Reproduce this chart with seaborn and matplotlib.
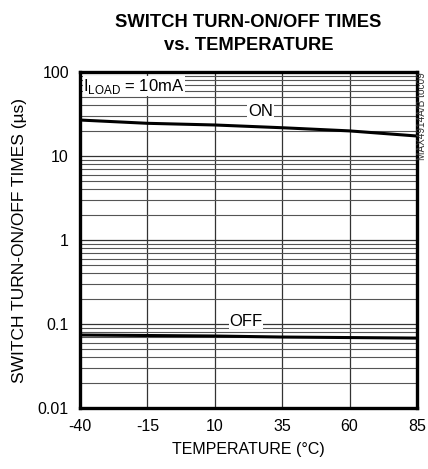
import numpy as np
import pandas as pd
import seaborn as sns
import matplotlib.pyplot as plt

temperature = [-40, -15, 10, 35, 60, 85]
t_on = [26.8, 24.5, 23.4, 21.7, 19.9, 17.3]
t_off = [0.074, 0.073, 0.072, 0.070, 0.069, 0.068]
x_ticks = [-40, -15, 10, 35, 60, 85]
y_ticks = [0.01, 0.1, 1, 10, 100]
y_ticklabels = ["0.01", "0.1", "1", "10", "100"]

df = pd.DataFrame({
    "temp": temperature * 2,
    "time": t_on + t_off,
    "mode": ["ON"] * len(t_on) + ["OFF"] * len(t_off),
})

sns.set_style("white")
plt.rcParams['font.family'] = ['Liberation Sans', 'DejaVu Sans']
plt.rcParams['text.color'] = 'black'
plt.rcParams['axes.labelcolor'] = 'black'

fig = plt.figure(figsize=(4.28, 4.69), dpi=100)
ax = fig.add_axes([0.187, 0.130, 0.787, 0.7165])

sns.lineplot(data=df, x="temp", y="time", units="mode", estimator=None,
             color="black", linewidth=2.2, ax=ax, legend=False)

ax.set_yscale("log")
ax.set_xlim(-40, 85)
ax.set_ylim(0.01, 100)
ax.set_xticks(x_ticks)
ax.set_xticklabels([str(v) for v in x_ticks])
ax.set_yticks(y_ticks)
ax.set_yticklabels(y_ticklabels)
ax.grid(True, which="major", color="#333333", linewidth=0.9)
ax.grid(True, which="minor", axis="y", color="#555555", linewidth=0.8)
ax.tick_params(which="both", length=0, labelsize=11.5, pad=8, colors="black")

for s in ax.spines.values():
    s.set_color("black")
    s.set_linewidth(2.4)

ax.set_xlabel("TEMPERATURE (°C)", fontsize=11.5, labelpad=6)
ax.set_ylabel("SWITCH TURN-ON/OFF TIMES (µs)", fontsize=12.5, labelpad=8)
ax.set_title("SWITCH TURN-ON/OFF TIMES\nvs. TEMPERATURE", fontsize=13.2,
             fontweight="bold", pad=16, linespacing=1.45)

box = dict(facecolor="white", edgecolor="none", pad=0.5)
ax.text(-38.8, 68, r"I$_{\mathregular{LOAD}}$ = 10mA", fontsize=12,
        va="center", ha="left", bbox=box)
ax.text(27, 34, "ON", fontsize=12, va="center", ha="center", bbox=box)
ax.text(21.5, 0.108, "OFF", fontsize=12, va="center", ha="center", bbox=box)

fig.text(0.986, 0.846, "MAX4914A/B toc09", rotation=90, fontsize=7.2,
         va="top", ha="center", color="#333333")

fig.savefig("out.png", dpi=100)
